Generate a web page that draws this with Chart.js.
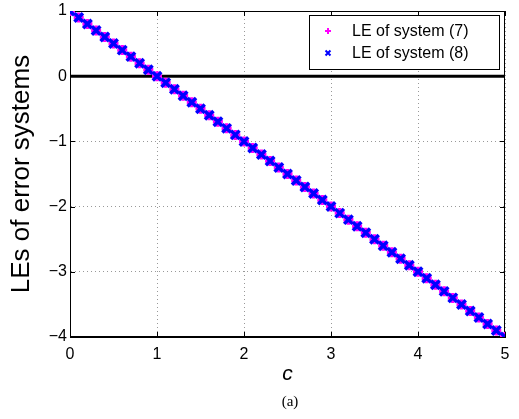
<!DOCTYPE html>
<html>
<head>
<meta charset="utf-8">
<script src="https://cdn.jsdelivr.net/npm/chart.js@4.4.1/dist/chart.umd.min.js"></script>
<style>
  html, body { margin: 0; padding: 0; background: #fff; }
  #wrap { width: 519px; height: 419px; position: relative; }
</style>
</head>
<body>
<div id="wrap"><canvas id="chart" width="519" height="419"></canvas></div>
<script>
// coupling strength c, sampled every 0.1
const cValues = [0, 0.1, 0.2, 0.3, 0.4, 0.5, 0.6, 0.7, 0.8, 0.9,
  1.0, 1.1, 1.2, 1.3, 1.4, 1.5, 1.6, 1.7, 1.8, 1.9,
  2.0, 2.1, 2.2, 2.3, 2.4, 2.5, 2.6, 2.7, 2.8, 2.9,
  3.0, 3.1, 3.2, 3.3, 3.4, 3.5, 3.6, 3.7, 3.8, 3.9,
  4.0, 4.1, 4.2, 4.3, 4.4, 4.5, 4.6, 4.7, 4.8, 4.9, 5.0];

const leSystem7 = [1.0, 0.9, 0.8, 0.7, 0.6, 0.5, 0.4, 0.3, 0.2, 0.1,
  0.0, -0.1, -0.2, -0.3, -0.4, -0.5, -0.6, -0.7, -0.8, -0.9,
  -1.0, -1.1, -1.2, -1.3, -1.4, -1.5, -1.6, -1.7, -1.8, -1.9,
  -2.0, -2.1, -2.2, -2.3, -2.4, -2.5, -2.6, -2.7, -2.8, -2.9,
  -3.0, -3.1, -3.2, -3.3, -3.4, -3.5, -3.6, -3.7, -3.8, -3.9, -4.0];

const leSystem8 = [1.0, 0.9, 0.8, 0.7, 0.6, 0.5, 0.4, 0.3, 0.2, 0.1,
  0.0, -0.1, -0.2, -0.3, -0.4, -0.5, -0.6, -0.7, -0.8, -0.9,
  -1.0, -1.1, -1.2, -1.3, -1.4, -1.5, -1.6, -1.7, -1.8, -1.9,
  -2.0, -2.1, -2.2, -2.3, -2.4, -2.5, -2.6, -2.7, -2.8, -2.9,
  -3.0, -3.1, -3.2, -3.3, -3.4, -3.5, -3.6, -3.7, -3.8, -3.9, -4.0];

const xTicks = [0, 1, 2, 3, 4, 5];
const yTicks = [-4, -3, -2, -1, 0, 1];
const seriesLabels = ['LE of system (7)', 'LE of system (8)'];

const FONT = "'Liberation Sans', Arial, Helvetica, sans-serif";

const toPoints = (ys) => cValues.map((c, i) => ({ x: c, y: ys[i] }));

// zero line, full frame, inward tick marks, legend box and "(a)"
const decorations = {
  id: 'decorations',
  beforeDatasetsDraw(chart) {
    const { ctx, chartArea: a, scales: { x, y } } = chart;
    ctx.save();
    ctx.strokeStyle = '#000';
    ctx.lineWidth = 3;
    ctx.beginPath();
    ctx.moveTo(a.left, y.getPixelForValue(0));
    ctx.lineTo(a.right, y.getPixelForValue(0));
    ctx.stroke();

    ctx.lineWidth = 1;
    ctx.strokeRect(a.left + 0.5, a.top + 0.5, a.right - a.left - 1, a.bottom - a.top - 1);
    ctx.beginPath();
    xTicks.forEach(v => {
      const px = Math.round(x.getPixelForValue(v)) + 0.5;
      ctx.moveTo(px, a.bottom); ctx.lineTo(px, a.bottom - 5);
      ctx.moveTo(px, a.top); ctx.lineTo(px, a.top + 5);
    });
    yTicks.forEach(v => {
      const py = Math.round(y.getPixelForValue(v)) + 0.5;
      ctx.moveTo(a.left, py); ctx.lineTo(a.left + 5, py);
      ctx.moveTo(a.right, py); ctx.lineTo(a.right - 5, py);
    });
    ctx.stroke();
    ctx.restore();
  },
  afterDraw(chart) {
    const { ctx } = chart;
    ctx.save();
    // legend
    const bx = 309, by = 15, bw = 190, bh = 54;
    ctx.fillStyle = '#fff';
    ctx.fillRect(bx, by, bw, bh);
    ctx.strokeStyle = '#000';
    ctx.lineWidth = 1;
    ctx.strokeRect(bx + 0.5, by + 0.5, bw, bh);
    const rows = [31, 53];
    chart.data.datasets.forEach((ds, i) => {
      const opts = { pointStyle: ds.pointStyle, radius: i === 0 ? 3 : 3.5, borderWidth: 2 };
      ctx.strokeStyle = ds.borderColor;
      ctx.fillStyle = ds.borderColor;
      ctx.lineWidth = 2;
      Chart.helpers.drawPoint(ctx, opts, 328, rows[i]);
      ctx.fillStyle = '#000';
      ctx.font = '16px ' + FONT;
      ctx.textAlign = 'left';
      ctx.textBaseline = 'middle';
      ctx.fillText(seriesLabels[i], 352, rows[i] + 1);
    });
    // panel tag
    ctx.fillStyle = '#000';
    ctx.font = "15px 'Liberation Serif', 'Times New Roman', serif";
    ctx.textAlign = 'center';
    ctx.textBaseline = 'middle';
    ctx.fillText('(a)', 290, 402);
    ctx.restore();
  }
};

new Chart(document.getElementById('chart'), {
  type: 'scatter',
  data: {
    datasets: [
      {
        label: seriesLabels[0],
        data: toPoints(leSystem7),
        pointStyle: 'cross',
        pointRadius: 5,
        pointBorderWidth: 3.5,
        borderColor: '#ff00ff',
        backgroundColor: '#ff00ff',
        order: 2
      },
      {
        label: seriesLabels[1],
        data: toPoints(leSystem8),
        pointStyle: 'crossRot',
        pointRadius: 6,
        pointBorderWidth: 3.5,
        borderColor: '#0000ff',
        backgroundColor: '#0000ff',
        order: 1
      }
    ]
  },
  options: {
    responsive: false,
    animation: false,
    events: [],
    layout: { padding: { left: 0, right: 14, top: 0, bottom: 30 } },
    plugins: { legend: { display: false }, tooltip: { enabled: false } },
    scales: {
      x: {
        type: 'linear',
        min: 0,
        max: 5,
        afterFit: (s) => { s.height = 52; },
        afterBuildTicks: (s) => { s.ticks = xTicks.map(v => ({ value: v })); },
        grid: { color: '#999', drawTicks: false, lineWidth: 1 },
        border: { display: true, color: '#000', width: 1, dash: [1, 3] },
        ticks: {
          padding: 8,
          color: '#000',
          font: { family: FONT, size: 16 },
          maxRotation: 0,
          callback: (v) => String(v)
        },
        title: {
          display: true,
          text: 'c',
          color: '#000',
          font: { family: FONT, size: 21, style: 'italic' },
          padding: { top: 0, bottom: 2 }
        }
      },
      y: {
        type: 'linear',
        min: -4,
        max: 1,
        afterFit: (s) => { s.width = 70; },
        afterBuildTicks: (s) => { s.ticks = yTicks.map(v => ({ value: v })); },
        grid: { color: '#999', drawTicks: false, lineWidth: 1 },
        border: { display: true, color: '#000', width: 1, dash: [1, 3] },
        ticks: {
          padding: 3,
          color: '#000',
          font: { family: FONT, size: 16, lineHeight: 1 },
          callback: (v) => (v < 0 ? '\u2212' + Math.abs(v) : String(v))
        },
        title: {
          display: true,
          text: 'LEs of error systems',
          color: '#000',
          font: { family: FONT, size: 26 },
          padding: { top: 6, bottom: 0 }
        }
      }
    }
  },
  plugins: [decorations]
});
</script>
</body>
</html>
